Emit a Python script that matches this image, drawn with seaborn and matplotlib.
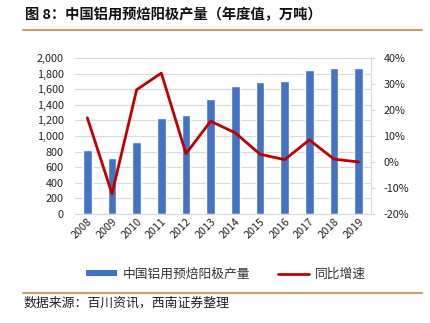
import matplotlib
matplotlib.use("Agg")
import matplotlib.pyplot as plt
from matplotlib.lines import Line2D
from matplotlib.patches import Patch
from matplotlib.ticker import FuncFormatter, MultipleLocator
import seaborn as sns
import pandas as pd

years = ["2008", "2009", "2010", "2011", "2012", "2013",
         "2014", "2015", "2016", "2017", "2018", "2019"]
output = [820, 720, 920, 1235, 1275, 1475, 1640, 1690, 1705, 1850, 1870, 1870]
growth = [17.0, -12.2, 27.8, 34.2, 3.2, 15.7, 11.2, 3.0, 0.9, 8.5, 1.1, 0.0]

title = "图 8：中国铝用预焙阳极产量（年度值，万吨）"
bar_label = "中国铝用预焙阳极产量"
line_label = "同比增速"
source = "数据来源：百川资讯，西南证券整理"

sns.set_theme(style="white")
plt.rcParams["font.family"] = ["Noto Sans CJK SC", "DejaVu Sans"]

BLUE = "#4472C4"
RED = "#C00000"
GRID = "#D9D9D9"
TAN = "#C8A06A"

df = pd.DataFrame({"year": years, "output": output, "growth": growth})

fig = plt.figure(figsize=(4.30, 3.23), dpi=100)
W, H = 430, 323
ax = fig.add_axes([75 / W, 1 - 214 / H, (371 - 75) / W, (214 - 58) / H])

sns.barplot(data=df, x="year", y="output", color=BLUE, width=0.34,
            saturation=1, ax=ax, zorder=2)
ax.set_ylim(0, 2000)
ax.yaxis.set_major_locator(MultipleLocator(200))
ax.yaxis.set_major_formatter(FuncFormatter(lambda v, p: f"{int(v):,}"))
ax.grid(axis="y", color=GRID, linewidth=0.8, zorder=0)
ax.set_axisbelow(True)
ax.set_xlabel("")
ax.set_ylabel("")
for s in ["left", "right", "top"]:
    ax.spines[s].set_visible(False)
ax.spines["bottom"].set_color(GRID)
ax.spines["bottom"].set_linewidth(0.8)
ax.tick_params(axis="y", length=0, pad=8, labelsize=7.8, labelcolor="#222222")
ax.tick_params(axis="x", length=0, pad=2, labelsize=7.8, labelcolor="#222222")
for lab in ax.get_xticklabels():
    lab.set_rotation(45)
    lab.set_ha("right")
    lab.set_rotation_mode("anchor")
ax.set_xlim(-0.5, len(years) - 0.5)

ax2 = ax.twinx()
sns.lineplot(x=list(range(len(years))), y=growth, color=RED, linewidth=2.0,
             ax=ax2, zorder=3)
ax2.set_ylim(-20, 40)
ax2.yaxis.set_major_locator(MultipleLocator(10))
ax2.yaxis.set_major_formatter(FuncFormatter(lambda v, p: f"{int(round(v))}%"))
ax2.set_ylabel("")
for s in ["left", "top", "bottom"]:
    ax2.spines[s].set_visible(False)
ax2.spines["right"].set_color(GRID)
ax2.spines["right"].set_linewidth(0.8)
ax2.tick_params(axis="y", length=3, width=0.8, color=GRID, pad=6,
                labelsize=7.8, labelcolor="#222222")
ax2.grid(False)

# header and footer rules
fig.text(25 / W, 1 - 15 / H, title, fontsize=10.3, fontweight="bold",
         ha="left", va="center", color="#111111")
fig.add_artist(Line2D([23 / W, 422 / W], [1 - 29.5 / H, 1 - 29.5 / H],
                      color=TAN, linewidth=1.5))
fig.add_artist(Line2D([23 / W, 422 / W], [1 - 292.5 / H, 1 - 292.5 / H],
                      color=TAN, linewidth=1.5))
fig.text(23 / W, 1 - 303 / H, source, fontsize=9.3, style="italic",
         ha="left", va="center", color="#222222")

handles = [Patch(facecolor=BLUE, edgecolor="none"),
           Line2D([0], [0], color=RED, linewidth=2)]
fig.legend(handles, [bar_label, line_label], loc="center",
           bbox_to_anchor=(226 / W, 1 - 274 / H), ncol=2, frameon=False,
           fontsize=9.2, handlelength=2.4, handleheight=0.3,
           columnspacing=2.2, handletextpad=0.45, labelcolor="#333333")

fig.savefig("out.png", dpi=100)
